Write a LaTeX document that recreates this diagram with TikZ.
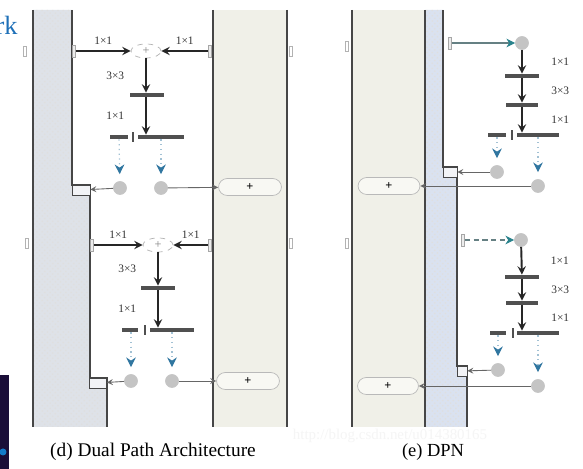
\documentclass[tikz,border=0pt]{standalone}
\usepackage{fontspec}
\setmainfont{Liberation Serif}
\definecolor{densegray}{RGB}{222,226,232}
\definecolor{denseblue}{RGB}{218,226,240}
\definecolor{residbeige}{RGB}{240,240,232}
\definecolor{edgedark}{RGB}{70,70,70}
\definecolor{bardark}{RGB}{80,80,80}
\definecolor{dotgray}{RGB}{196,196,196}
\definecolor{splitblue}{RGB}{48,118,160}
\definecolor{tealhead}{RGB}{40,130,140}
\definecolor{linkblue}{RGB}{30,112,184}
\definecolor{navyblock}{RGB}{26,14,56}
\usetikzlibrary{shapes.geometric,arrows,arrows.meta,patterns,positioning}

\begin{document}
\begin{tikzpicture}[
			x=0.02cm, y=-0.02cm,
			colline/.style={edgedark, line width=1.1pt},
			thinline/.style={edgedark, line width=0.6pt},
			edgeline/.style={edgedark, line width=1.5pt},
			tabnode/.style={draw=gray!70, fill=gray!15, minimum width=0.06cm,
				minimum height=0.24cm, inner sep=0pt},
			marknode/.style={draw=gray!60, minimum width=0.05cm, minimum height=0.2cm, inner sep=0pt},
			plusnode/.style={ellipse, draw=gray!60, dashed, fill=white, text=gray,
				minimum width=0.6cm, minimum height=0.28cm, inner sep=0pt, font=\scriptsize},
			sumnode/.style={draw=gray!55, rounded corners=5pt, fill=white!50!residbeige,
				minimum width=1.26cm, minimum height=0.34cm, inner sep=0pt, font=\scriptsize\bfseries},
			barnode/.style={fill=bardark, minimum height=0.08cm, inner sep=0pt},
			ticknode/.style={fill=bardark, minimum width=0.03cm, minimum height=0.2cm, inner sep=0pt},
			dotnode/.style={circle, fill=dotgray, draw=gray!45, minimum size=0.26cm, inner sep=0pt},
			stepnode/.style={draw=edgedark, thin, fill=white!60!densegray, minimum height=0.2cm, inner sep=0pt},
			klabel/.style={font=\fontsize{6.5}{7}\selectfont, text=black!80},
			garr/.style={-stealth, line width=1.1pt, black!85},
			larr/.style={-stealth, line width=0.5pt, gray!80!black},
			tarr/.style={-{Stealth[length=5pt,width=5pt,color=tealhead]}, line width=0.6pt, gray!70!tealhead},
			barr/.style={-{Stealth[length=5.5pt,width=5.5pt,color=splitblue]}, dotted, line width=0.7pt,
				splitblue!45, shorten >=0.14cm}
		]
			\useasboundingbox (0,0) rectangle (583,469);
			\fill[white] (0,0) rectangle (583,469);

			% (d) dual path architecture
			\fill[densegray] (33,10) -- (72,10) -- (72,185) -- (90,185) -- (90,378) -- (107,378) -- (107,427) -- (33,427) -- cycle;
			\fill[pattern=crosshatch dots, pattern color=gray!25] (33,10) -- (72,10) -- (72,185) -- (90,185) -- (90,378) -- (107,378) -- (107,427) -- (33,427) -- cycle;
			\fill[residbeige] (213,10) rectangle (287,427);
			\draw[colline] (33,10) -- (33,427);
			\draw[edgeline] (72,10) -- (72,185) -- (90,185) -- (90,378) -- (107,378) -- (107,427);
			\draw[colline] (213,10) -- (213,427);
			\draw[colline] (287,10) -- (287,427);

			\node[marknode] (lmA) at (25,51) {};
			\node[marknode] (rmA) at (291,51) {};
			\node[marknode] (lmB) at (27,243) {};
			\node[marknode] (rmB) at (291,243) {};

			\node[tabnode] (inA) at (74,51) {};
			\node[plusnode] (plusA) at (146,51) {+};
			\node[tabnode] (sideA) at (210,51) {};
			\node[barnode, minimum width=0.7cm] (barA) at (147,95) {};
			\node[barnode, minimum width=0.36cm] (shortA) at (119,137) {};
			\node[ticknode] (tickA) at (133,137) {};
			\node[barnode, minimum width=0.94cm] (longA) at (161,137) {};
			\node[dotnode] (dotA1) at (120,188) {};
			\node[dotnode] (dotA2) at (161,188) {};
			\node[stepnode, minimum width=0.36cm] (stepA) at (81,190) {};
			\node[sumnode] (sumA) at (250,187) {+};
			\draw[garr] (inA) -- (plusA) node[midway, above, klabel]{1×1};
			\draw[garr] (sideA) -- (plusA) node[midway, above, klabel]{1×1};
			\draw[garr] (plusA) -- (barA.north -| plusA) node[midway, left=0.3cm, klabel]{3×3};
			\draw[garr] (barA.south -| plusA) -- (plusA |- longA.north) node[midway, left=0.3cm, klabel]{1×1};
			\draw[barr] (shortA) -- (dotA1);
			\draw[barr] (longA) -- (dotA2);
			\draw[larr] (dotA1) -- (stepA);
			\draw[larr] (dotA2) -- (sumA);

			\node[tabnode] (inB) at (92,245) {};
			\node[plusnode] (plusB) at (158,245) {+};
			\node[tabnode] (sideB) at (210,245) {};
			\node[barnode, minimum width=0.7cm] (barB) at (158,288) {};
			\node[barnode, minimum width=0.32cm] (shortB) at (130,330) {};
			\node[ticknode] (tickB) at (145,330) {};
			\node[barnode, minimum width=0.9cm] (longB) at (172,330) {};
			\node[dotnode] (dotB1) at (131,381) {};
			\node[dotnode] (dotB2) at (172,381) {};
			\node[stepnode, minimum width=0.34cm] (stepB) at (98,383) {};
			\node[sumnode] (sumB) at (248,381) {+};
			\draw[garr] (inB) -- (plusB) node[midway, above, klabel]{1×1};
			\draw[garr] (sideB) -- (plusB) node[midway, above, klabel]{1×1};
			\draw[garr] (plusB) -- (barB) node[midway, left=0.3cm, klabel]{3×3};
			\draw[garr] (barB) -- (barB |- longB.north) node[midway, left=0.3cm, klabel]{1×1};
			\draw[barr] (shortB.south -| dotB1) -- (dotB1);
			\draw[barr] (longB) -- (dotB2);
			\draw[larr] (dotB1) -- (stepB);
			\draw[larr] (dotB2) -- (sumB);

			\node[font=\fontsize{11}{12}\selectfont] (capD) at (153,452) {(d) Dual Path Architecture};

			% (e) DPN
			\fill[residbeige] (352,10) rectangle (425,427);
			\fill[denseblue] (425,10) -- (443,10) -- (443,167) -- (457,167) -- (457,366) -- (467,366) -- (467,427) -- (425,427) -- cycle;
			\fill[pattern=crosshatch dots, pattern color=gray!25] (425,10) -- (443,10) -- (443,167) -- (457,167) -- (457,366) -- (467,366) -- (467,427) -- (425,427) -- cycle;
			\draw[colline] (352,10) -- (352,427);
			\draw[thinline] (425,10) -- (425,427);
			\draw[edgeline] (443,10) -- (443,167) -- (457,167) -- (457,366) -- (467,366) -- (467,427);

			\node[marknode] (lmC) at (347,46) {};
			\node[marknode] (lmD) at (347,243) {};

			\node[tabnode] (inC) at (450,43) {};
			\node[dotnode] (dotC0) at (522,43) {};
			\node[barnode, minimum width=0.7cm] (barC1) at (522,76) {};
			\node[barnode, minimum width=0.64cm] (barC2) at (522,105) {};
			\node[barnode, minimum width=0.38cm] (shortC) at (497,135) {};
			\node[ticknode] (tickC) at (512,135) {};
			\node[barnode, minimum width=0.86cm] (longC) at (538,135) {};
			\node[dotnode] (dotC1) at (497,172) {};
			\node[dotnode] (dotC2) at (538,186) {};
			\node[stepnode, minimum width=0.28cm] (stepC) at (450,172) {};
			\node[sumnode, minimum width=1.24cm] (sumC) at (389,186) {+};
			\draw[tarr] (inC) -- (dotC0);
			\draw[garr] (dotC0) -- (barC1) node[midway, right=0.45cm, klabel]{1×1};
			\draw[garr] (barC1) -- (barC2) node[midway, right=0.45cm, klabel]{3×3};
			\draw[garr] (barC2) -- (barC2 |- longC.north) node[midway, right=0.45cm, klabel]{1×1};
			\draw[barr] (shortC) -- (dotC1);
			\draw[barr] (longC) -- (dotC2);
			\draw[larr] (dotC1) -- (stepC);
			\draw[larr] (dotC2) -- (sumC);

			\node[tabnode] (inD) at (463,240) {};
			\node[dotnode] (dotD0) at (521,240) {};
			\node[barnode, minimum width=0.7cm] (barD1) at (522,277) {};
			\node[barnode, minimum width=0.64cm] (barD2) at (522,303) {};
			\node[barnode, minimum width=0.34cm] (shortD) at (498,333) {};
			\node[ticknode] (tickD) at (513,333) {};
			\node[barnode, minimum width=0.84cm] (longD) at (538,333) {};
			\node[dotnode] (dotD1) at (498,370) {};
			\node[dotnode] (dotD2) at (538,386) {};
			\node[stepnode, minimum width=0.2cm] (stepD) at (462,371) {};
			\node[sumnode, minimum width=1.22cm] (sumD) at (388,386) {+};
			\draw[tarr, densely dashed] (inD) -- (dotD0);
			\draw[garr] (dotD0) -- (barD1) node[midway, right=0.45cm, klabel]{1×1};
			\draw[garr] (barD1) -- (barD2) node[midway, right=0.45cm, klabel]{3×3};
			\draw[garr] (barD2) -- (barD2 |- longD.north) node[midway, right=0.45cm, klabel]{1×1};
			\draw[barr] (shortD) -- (dotD1);
			\draw[barr] (longD) -- (dotD2);
			\draw[larr] (dotD1) -- (stepD);
			\draw[larr] (dotD2) -- (sumD);

			\node[font=\fontsize{10.5}{12}\selectfont] (capE) at (433,452) {(e) DPN};
			\node[font=\fontsize{8.5}{9}\selectfont, text=gray!8, inner sep=0pt] (wmark) at (390,436) {http://blog.csdn.net/u014380165};

			% edges of the page
			\node[anchor=base east, text=linkblue, font=\fontsize{15}{16}\selectfont, inner sep=0pt] (rk) at (18,35) {rk};
			\fill[navyblock] (0,375) rectangle (9,469);
			\fill[cyan!60!blue] (3,452) circle[radius=0.07cm];
		\end{tikzpicture}
\end{document}
